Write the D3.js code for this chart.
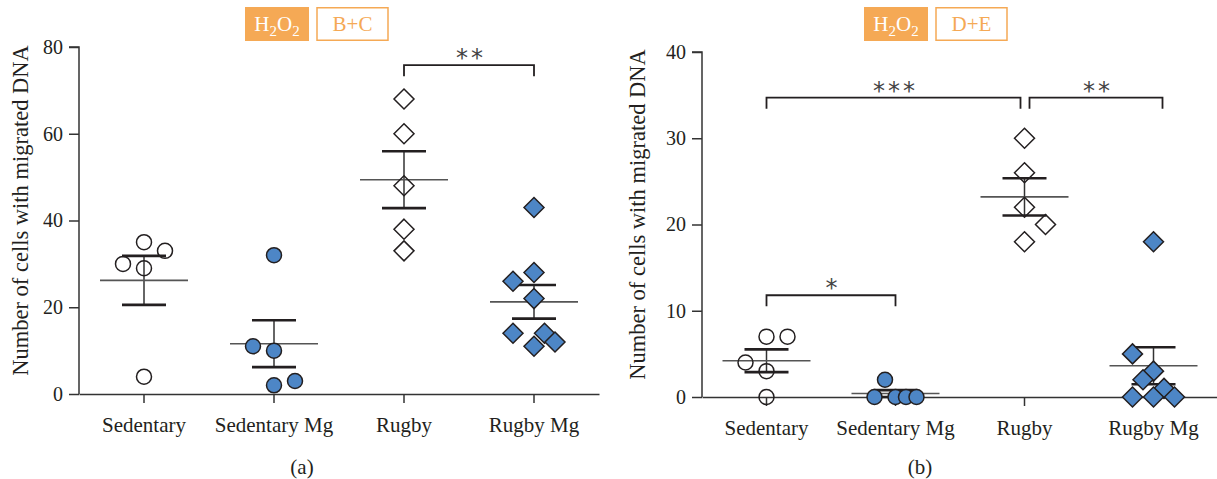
<!DOCTYPE html>
<html>
<head>
<meta charset="utf-8">
<script src="https://cdn.jsdelivr.net/npm/d3@7"></script>
<style>
  body { margin: 0; background: #fff; }
  svg { display: block; font-family: "Liberation Serif", "DejaVu Serif", serif; }
</style>
</head>
<body>
<div id="chart"></div>
<script>
const groups = ['Sedentary', 'Sedentary Mg', 'Rugby', 'Rugby Mg'];
const shapes = ['circle', 'circle', 'diamond', 'diamond'];
const filled = [false, true, false, true];

// panel (a) H2O2 B+C
const aSedentary = [35, 33, 30, 29, 4];
const aSedentaryMg = [32, 11, 10, 3, 2];
const aRugby = [68, 60, 48, 38, 33];
const aRugbyMg = [43, 28, 26, 22, 14, 14, 12, 11];
// horizontal spread of overlapping points, in half-marker steps
const aSpread = [[0, 2, -2, 0, 0], [0, -2, 0, 2, 0], [0, 0, 0, 0, 0], [0, 0, -2, 0, -2, 1, 2, 0]];
const aTicks = [0, 20, 40, 60, 80];
const aSig = [{ from: 2, to: 3, y: 75.8, label: '**' }];

// panel (b) H2O2 D+E
const bSedentary = [7, 7, 4, 3, 0];
const bSedentaryMg = [2, 0, 0, 0, 0];
const bRugby = [30, 26, 22, 20, 18];
const bRugbyMg = [18, 5, 3, 2, 1, 0, 0, 0];
const bSpread = [[0, 2, -2, 0, 0], [-1, -2, 0, 1, 2], [0, 0, 0, 2, 0], [0, -2, 0, -1, 1, -2, 0, 2]];
const bTicks = [0, 10, 20, 30, 40];
const bSig = [
  { from: 0, to: 2, y: 34.7, label: '***', inset: [0, -4] },
  { from: 2, to: 3, y: 34.7, label: '**', inset: [5, 9] },
  { from: 0, to: 1, y: 11.8, label: '*' }
];

const orange = '#f5a955';
const blue = '#4d86c6';
const ink = '#231f20';

const svg = d3.select('#chart').append('svg').attr('width', 1217).attr('height', 479);

drawPanel({
  left: 79, right: 599, top: 47, bottom: 394,
  domain: [0, 80], ticks: aTicks,
  data: [aSedentary, aSedentaryMg, aRugby, aRugbyMg], spread: aSpread,
  sig: aSig, tag: 'B+C', tagX: 245, caption: '(a)', captionX: 302, labelX: 20
});

drawPanel({
  left: 702, right: 1218, top: 52, bottom: 397,
  domain: [0, 40], ticks: bTicks,
  data: [bSedentary, bSedentaryMg, bRugby, bRugbyMg], spread: bSpread,
  sig: bSig, tag: 'D+E', tagX: 864, caption: '(b)', captionX: 920, labelX: 637
});

function drawPanel(p) {
  const g = svg.append('g');
  const x = d3.scaleBand().domain(groups).range([p.left, p.right]);
  const cx = i => x(groups[i]) + x.bandwidth() / 2;
  const y = d3.scaleLinear().domain(p.domain).range([p.bottom, p.top]);

  const yAxis = g.append('g')
    .attr('transform', `translate(${p.left},0)`)
    .call(d3.axisLeft(y).tickValues(p.ticks).tickSize(10).tickPadding(6));
  const xAxis = g.append('g')
    .attr('transform', `translate(0,${p.bottom})`)
    .call(d3.axisBottom(x).tickSize(9).tickPadding(14).tickSizeOuter(0));
  [yAxis, xAxis].forEach(a => {
    a.attr('font-family', '"Liberation Serif", serif');
    a.select('.domain').attr('stroke', '#333').attr('stroke-width', 1.5);
    a.selectAll('.tick line').attr('stroke', '#333').attr('stroke-width', 1.5);
    a.selectAll('.tick text').attr('fill', ink).attr('font-size', 21);
  });
  yAxis.select('.domain').attr('d', `M-10,${p.top}H0V${p.bottom}`);
  yAxis.selectAll('.tick text').attr('font-size', 20);

  g.append('text')
    .attr('transform', `translate(${p.labelX},${(p.top + p.bottom) / 2 - 10}) rotate(-90)`)
    .attr('text-anchor', 'middle')
    .attr('dominant-baseline', 'central')
    .attr('font-size', 22.5)
    .attr('fill', ink)
    .text('Number of cells with migrated DNA');

  // mean ± SEM
  p.data.forEach((vals, i) => {
    const m = d3.mean(vals);
    const sem = d3.deviation(vals) / Math.sqrt(vals.length);
    const c = cx(i);
    g.append('line').attr('x1', c).attr('x2', c).attr('y1', y(m + sem)).attr('y2', y(m - sem))
      .attr('stroke', '#333').attr('stroke-width', 1.5);
    [m + sem, m - sem].forEach(v => {
      g.append('line').attr('x1', c - 22).attr('x2', c + 22).attr('y1', y(v)).attr('y2', y(v))
        .attr('stroke', ink).attr('stroke-width', 2.6);
    });
    g.append('line').attr('x1', c - 44).attr('x2', c + 44).attr('y1', y(m)).attr('y2', y(m))
      .attr('stroke', '#555').attr('stroke-width', 1.6);
  });

  // points
  p.data.forEach((vals, i) => {
    const c = cx(i);
    vals.forEach((v, j) => {
      const px = c + p.spread[i][j] * 10.5;
      const py = y(v);
      const fill = filled[i] ? blue : 'none';
      if (shapes[i] === 'circle') {
        g.append('circle').attr('cx', px).attr('cy', py).attr('r', 7.5)
          .attr('fill', fill).attr('stroke', ink).attr('stroke-width', 1.5);
      } else {
        g.append('path')
          .attr('d', `M${px},${py - 10}L${px + 10},${py}L${px},${py + 10}L${px - 10},${py}Z`)
          .attr('fill', fill).attr('stroke', ink).attr('stroke-width', 1.5);
      }
    });
  });

  // significance brackets
  p.sig.forEach(s => {
    const inset = s.inset || [0, 0];
    const x1 = cx(s.from) + inset[0];
    const x2 = cx(s.to) + inset[1];
    const yy = y(s.y);
    g.append('path')
      .attr('d', `M${x1},${yy + 11}V${yy}H${x2}V${yy + 11}`)
      .attr('fill', 'none').attr('stroke', ink).attr('stroke-width', 1.8);
    g.append('text')
      .attr('x', (x1 + x2) / 2 + 2).attr('y', yy + 1)
      .attr('text-anchor', 'middle')
      .attr('font-size', 24).attr('letter-spacing', 3).attr('fill', '#444')
      .attr('font-family', '"DejaVu Sans", sans-serif')
      .text(s.label);
  });

  // condition tags
  const tag = svg.append('g');
  tag.append('rect').attr('x', p.tagX).attr('y', 7).attr('width', 64).attr('height', 34).attr('fill', orange);
  const h = tag.append('text').attr('x', p.tagX + 32).attr('y', 31).attr('text-anchor', 'middle')
    .attr('fill', '#fff').attr('font-size', 21);
  h.append('tspan').text('H');
  h.append('tspan').attr('font-size', 15).attr('dy', 5).text('2');
  h.append('tspan').attr('dy', -5).text('O');
  h.append('tspan').attr('font-size', 15).attr('dy', 5).text('2');
  tag.append('rect').attr('x', p.tagX + 72).attr('y', 7.75).attr('width', 71).attr('height', 32.5)
    .attr('fill', 'none').attr('stroke', orange).attr('stroke-width', 1.5);
  tag.append('text').attr('x', p.tagX + 107.5).attr('y', 31).attr('text-anchor', 'middle')
    .attr('fill', orange).attr('font-size', 21).text(p.tag);

  svg.append('text').attr('x', p.captionX).attr('y', 474).attr('text-anchor', 'middle')
    .attr('fill', ink).attr('font-size', 21).text(p.caption);
}
</script>
</body>
</html>
